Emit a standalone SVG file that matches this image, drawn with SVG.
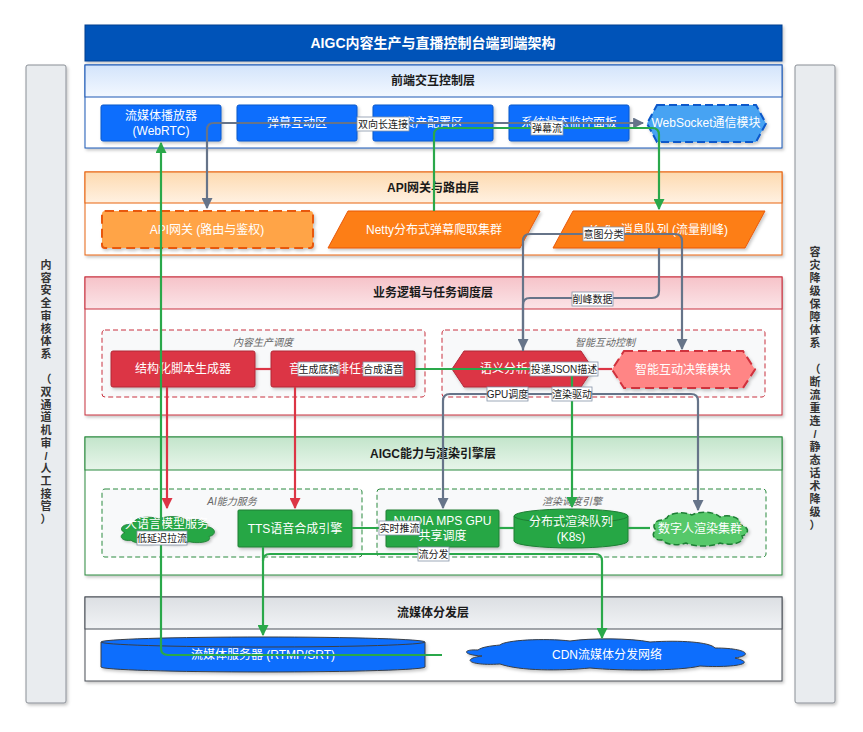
<svg xmlns="http://www.w3.org/2000/svg" width="863" height="732" viewBox="0 0 863 732">
<defs>
<style>
text{font-family:"Liberation Sans","Noto Sans CJK SC",sans-serif}
.title{font-size:14px;font-weight:bold;fill:#fff;text-anchor:middle;dominant-baseline:central}
.lh{font-size:12px;font-weight:bold;fill:#1a1a1a;text-anchor:middle;dominant-baseline:central}
.nt{font-size:12px;fill:#fff;text-anchor:middle;dominant-baseline:central}
.gl{font-size:10px;font-style:italic;fill:#666;text-anchor:middle;dominant-baseline:central}
.el{font-size:10px;fill:#222;text-anchor:middle;dominant-baseline:central}
.lb{fill:#fff;stroke:#8593a8;stroke-width:0.8}
.side{fill:#e9ecef;stroke:#8a8f96;stroke-width:1}
.st{font-size:11px;font-weight:bold;fill:#333;text-anchor:middle}
.cg{fill:none;stroke:#2aa84a;stroke-width:2.2}
.cs{fill:none;stroke:#667489;stroke-width:2.2}
.cr{fill:none;stroke:#dc3545;stroke-width:2.2}
.grp{stroke-dasharray:5 3;stroke-width:1}
.blue{fill:#0d6efd;stroke:#0a58ca;stroke-width:1}
.red{fill:#dc3545;stroke:#b02a37;stroke-width:1}
.green{fill:#28a745;stroke:#1e7e34;stroke-width:1}
.orange{fill:#fd7e14;stroke:#e8590c;stroke-width:1}
</style>
<path id="cloud" d="M12,14 C4,14 2,22 8,25 C1,28 4,37 14,35 C18,40 32,41 40,37 C48,41 66,41 72,37 C82,40 96,37 92,30 C100,28 99,18 90,17 C92,8 78,5 70,9 C64,2 48,2 42,7 C34,2 18,4 17,11 C15,12 13,13 12,14 Z"/>
<linearGradient id="g1" x1="0" y1="0" x2="0" y2="1"><stop offset="0" stop-color="#d3e4fb"/><stop offset="1" stop-color="#f3f8ff"/></linearGradient>
<linearGradient id="g2" x1="0" y1="0" x2="0" y2="1"><stop offset="0" stop-color="#fddab0"/><stop offset="1" stop-color="#fff1e2"/></linearGradient>
<linearGradient id="g3" x1="0" y1="0" x2="0" y2="1"><stop offset="0" stop-color="#f6c3c9"/><stop offset="1" stop-color="#fbe4e7"/></linearGradient>
<linearGradient id="g4" x1="0" y1="0" x2="0" y2="1"><stop offset="0" stop-color="#c3e5cb"/><stop offset="1" stop-color="#e7f5ea"/></linearGradient>
<linearGradient id="g5" x1="0" y1="0" x2="0" y2="1"><stop offset="0" stop-color="#dcdfe3"/><stop offset="1" stop-color="#f1f3f5"/></linearGradient>
<filter id="sh" x="-10%" y="-20%" width="130%" height="160%"><feDropShadow dx="1.5" dy="2" stdDeviation="1.5" flood-color="#000" flood-opacity="0.22"/></filter>
<marker id="ag" viewBox="0 0 10 10" refX="9" refY="5" markerWidth="5" markerHeight="5" orient="auto-start-reverse"><path d="M0,0 L10,5 L0,10 z" fill="#2aa84a"/></marker>
<marker id="as" viewBox="0 0 10 10" refX="9" refY="5" markerWidth="5" markerHeight="5" orient="auto-start-reverse"><path d="M0,0 L10,5 L0,10 z" fill="#667489"/></marker>
<marker id="ar" viewBox="0 0 10 10" refX="9" refY="5" markerWidth="5" markerHeight="5" orient="auto-start-reverse"><path d="M0,0 L10,5 L0,10 z" fill="#dc3545"/></marker>
</defs>
<rect width="863" height="732" fill="#fff"/>

<!-- side panels -->
<g id="side-left">
<rect class="side" x="26" y="65" width="40" height="638" rx="2" filter="url(#sh)"/>
<text class="st" x="46" y="269"><tspan x="46">内</tspan><tspan x="46" dy="12.7">容</tspan><tspan x="46" dy="12.7">安</tspan><tspan x="46" dy="12.7">全</tspan><tspan x="46" dy="12.7">审</tspan><tspan x="46" dy="12.7">核</tspan><tspan x="46" dy="12.7">体</tspan><tspan x="46" dy="12.7">系</tspan><tspan x="46" dy="25.4">（</tspan><tspan x="46" dy="12.7">双</tspan><tspan x="46" dy="12.7">通</tspan><tspan x="46" dy="12.7">道</tspan><tspan x="46" dy="12.7">机</tspan><tspan x="46" dy="12.7">审</tspan><tspan x="46" dy="12.7">/</tspan><tspan x="46" dy="12.7">人</tspan><tspan x="46" dy="12.7">工</tspan><tspan x="46" dy="12.7">接</tspan><tspan x="46" dy="12.7">管</tspan><tspan x="46" dy="12.7">）</tspan></text>
</g>
<g id="side-right">
<rect class="side" x="795" y="65" width="40" height="638" rx="2" filter="url(#sh)"/>
<text class="st" x="815" y="256"><tspan x="815">容</tspan><tspan x="815" dy="13">灾</tspan><tspan x="815" dy="13">降</tspan><tspan x="815" dy="13">级</tspan><tspan x="815" dy="13">保</tspan><tspan x="815" dy="13">障</tspan><tspan x="815" dy="13">体</tspan><tspan x="815" dy="13">系</tspan><tspan x="815" dy="26">（</tspan><tspan x="815" dy="13">断</tspan><tspan x="815" dy="13">流</tspan><tspan x="815" dy="13">重</tspan><tspan x="815" dy="13">连</tspan><tspan x="815" dy="13">/</tspan><tspan x="815" dy="13">静</tspan><tspan x="815" dy="13">态</tspan><tspan x="815" dy="13">话</tspan><tspan x="815" dy="13">术</tspan><tspan x="815" dy="13">降</tspan><tspan x="815" dy="13">级</tspan><tspan x="815" dy="13">）</tspan></text>
</g>

<!-- title -->
<g id="title">
<rect x="85" y="25" width="697" height="36" fill="#0652b8" stroke="#033f8f" stroke-width="1" filter="url(#sh)"/>
<text class="title" x="433" y="43">AIGC内容生产与直播控制台端到端架构</text>
</g>

<!-- layers -->
<g id="layer-frontend">
<rect x="85" y="65" width="697" height="83" fill="#fff" stroke="#1c58b5" stroke-width="1" filter="url(#sh)"/>
<rect x="85" y="65" width="697" height="32" fill="url(#g1)" stroke="#1c58b5" stroke-width="1"/>
<text class="lh" x="433" y="81">前端交互控制层</text>
</g>
<g id="layer-api">
<rect x="85" y="172" width="697" height="83" fill="#fff" stroke="#e8650f" stroke-width="1" filter="url(#sh)"/>
<rect x="85" y="172" width="697" height="31" fill="url(#g2)" stroke="#e8650f" stroke-width="1"/>
<text class="lh" x="433" y="187.5">API网关与路由层</text>
</g>
<g id="layer-biz">
<rect x="85" y="277" width="697" height="138" fill="#fff" stroke="#c8313e" stroke-width="1" filter="url(#sh)"/>
<rect x="85" y="277" width="697" height="32" fill="url(#g3)" stroke="#c8313e" stroke-width="1"/>
<text class="lh" x="433" y="293">业务逻辑与任务调度层</text>
</g>
<g id="layer-aigc">
<rect x="85" y="437" width="697" height="138" fill="#fff" stroke="#2a8a3e" stroke-width="1" filter="url(#sh)"/>
<rect x="85" y="437" width="697" height="33" fill="url(#g4)" stroke="#2a8a3e" stroke-width="1"/>
<text class="lh" x="433" y="453.5">AIGC能力与渲染引擎层</text>
</g>
<g id="layer-stream">
<rect x="85" y="597" width="697" height="84" fill="#fff" stroke="#4a5058" stroke-width="1" filter="url(#sh)"/>
<rect x="85" y="597" width="697" height="32" fill="url(#g5)" stroke="#4a5058" stroke-width="1"/>
<text class="lh" x="433" y="613">流媒体分发层</text>
</g>

<!-- groups -->
<g id="grp-content">
<rect class="grp" x="102" y="330" width="323" height="67" rx="3" fill="#f8f9fa" stroke="#c8313e"/>
<text class="gl" x="263" y="342">内容生产调度</text>
</g>
<g id="grp-interact">
<rect class="grp" x="442" y="330" width="323" height="67" rx="3" fill="#f8f9fa" stroke="#c8313e"/>
<text class="gl" x="605" y="342">智能互动控制</text>
</g>
<g id="grp-ai">
<rect class="grp" x="102" y="489" width="260" height="68" rx="3" fill="#f8f9fa" stroke="#2a8a3e"/>
<text class="gl" x="232" y="501">AI能力服务</text>
</g>
<g id="grp-render">
<rect class="grp" x="377" y="489" width="389" height="68" rx="3" fill="#f8f9fa" stroke="#2a8a3e"/>
<text class="gl" x="572" y="501">渲染调度引擎</text>
</g>

<!-- nodes: frontend -->
<g id="n-player"><rect class="blue" x="101" y="105" width="120" height="36" rx="2" filter="url(#sh)"/><text class="nt" x="161" y="116">流媒体播放器</text><text class="nt" x="161" y="131">(WebRTC)</text></g>
<g id="n-danmu"><rect class="blue" x="237" y="105" width="120" height="36" rx="2" filter="url(#sh)"/><text class="nt" x="297" y="123">弹幕互动区</text></g>
<g id="n-asset"><rect class="blue" x="373" y="105" width="120" height="36" rx="2" filter="url(#sh)"/><text class="nt" x="433" y="123">资产配置区</text></g>
<g id="n-monitor"><rect class="blue" x="509" y="105" width="120" height="36" rx="2" filter="url(#sh)"/><text class="nt" x="569" y="123">系统状态监控面板</text></g>
<g id="n-ws"><polygon points="657,105 756,105 766,123.5 756,142 657,142 647,123.5" fill="#47a3f3" stroke="#0a58ca" stroke-width="2" stroke-dasharray="8 4" filter="url(#sh)"/><text class="nt" x="706" y="123">WebSocket通信模块</text></g>

<!-- nodes: api -->
<g id="n-gateway"><rect x="102" y="211" width="211" height="37" rx="3" fill="#ffa447" stroke="#e8590c" stroke-width="2" stroke-dasharray="9 5" filter="url(#sh)"/><text class="nt" x="207" y="229.5">API网关 (路由与鉴权)</text></g>
<g id="n-netty"><polygon class="orange" points="348,211 540,211 520,248 328,248" filter="url(#sh)"/><text class="nt" x="434" y="229.5">Netty分布式弹幕爬取集群</text></g>
<g id="n-kafka"><polygon class="orange" points="573,211 765,211 745,248 553,248" filter="url(#sh)"/><text class="nt" x="659" y="229.5">Kafka消息队列 (流量削峰)</text></g>

<!-- nodes: biz -->
<g id="n-script"><rect class="red" x="111" y="351" width="144" height="36" rx="2" filter="url(#sh)"/><text class="nt" x="183" y="369">结构化脚本生成器</text></g>
<g id="n-avtask"><rect class="red" x="271" y="351" width="144" height="36" rx="2" filter="url(#sh)"/><text class="nt" x="343" y="369">音视频编排任务调度</text></g>
<g id="n-semantic"><polygon class="red" points="464,351 581,351 593,369 581,387 464,387 452,369" filter="url(#sh)"/><text class="nt" x="522" y="369">语义分析过滤器</text></g>
<g id="n-decision"><polygon points="624,351 743,351 755,369.5 743,388 624,388 612,369.5" fill="#ff8585" stroke="#d0303c" stroke-width="2" stroke-dasharray="9 5" filter="url(#sh)"/><text class="nt" x="683" y="369.5">智能互动决策模块</text></g>

<!-- nodes: aigc -->
<g id="n-llm"><use href="#cloud" transform="translate(117,514) scale(1,0.75)" fill="#28a745" stroke="#1e7e34" stroke-width="1" vector-effect="non-scaling-stroke" filter="url(#sh)"/><text class="nt" x="167" y="524">大语言模型服务</text></g>
<g id="n-tts"><rect class="green" x="238" y="510" width="114" height="37" rx="1" filter="url(#sh)"/><text class="nt" x="295" y="528.5">TTS语音合成引擎</text></g>
<g id="n-mps"><rect class="green" x="386" y="510" width="113" height="37" rx="1" filter="url(#sh)"/><text class="nt" x="442.5" y="521">NVIDIA MPS GPU</text><text class="nt" x="442.5" y="536">共享调度</text></g>
<g id="n-queue"><path d="M514,516 A57,7 0 0 1 628,516 V541 A57,7 0 0 1 514,541 Z" class="green" filter="url(#sh)"/><path d="M514,516 A57,7 0 0 0 628,516" fill="none" stroke="#1e7e34" stroke-width="1"/><text class="nt" x="571" y="522">分布式渲染队列</text><text class="nt" x="571" y="537">(K8s)</text></g>
<g id="n-avatar"><path d="M662,520 C654,520 652,527 656,530 C651,533 653,541 662,540 C666,545 678,546 686,543 C694,547 712,547 720,543 C730,546 746,543 742,536 C750,534 749,526 740,525 C742,517 728,514 720,517 C714,511 698,511 692,515 C684,511 668,513 667,518 Z" fill="#56c86a" stroke="#1e7e34" stroke-width="1.5" stroke-dasharray="6 3" filter="url(#sh)"/><text class="nt" x="700" y="529">数字人渲染集群</text></g>

<!-- nodes: stream -->
<g id="n-server"><path d="M101,642 A162,5 0 0 1 425,642 V667 A162,5 0 0 1 101,667 Z" fill="#0d6efd" stroke="#3a3f46" stroke-width="1" filter="url(#sh)"/><path d="M101,642 A162,5 0 0 0 425,642" fill="none" stroke="#3a3f46" stroke-width="1"/><text class="nt" x="263" y="655">流媒体服务器 (RTMP/SRT)</text></g>
<g id="n-cdn"><path d="M478,650 C462,649 462,655 482,656 C460,659 470,666 500,664 C520,671 560,671 590,668 C620,671 680,671 700,666 C730,668 760,664 735,658 C755,655 745,648 715,648 C710,642 680,640 650,642 C630,638 590,638 570,641 C545,638 505,640 500,645 C490,646 482,647 478,650 Z" fill="#0d6efd" stroke="#3a3f46" stroke-width="1" filter="url(#sh)"/><text class="nt" x="607" y="655">CDN流媒体分发网络</text></g>

<!-- connectors -->
<g id="connectors">
<path class="cs" d="M207,208 V130 Q207,123 214,123 H643" marker-start="url(#as)" marker-end="url(#as)"/>
<path class="cg" d="M434,211 V135 Q434,128 441,128 H652 Q659,128 659,135 V209" marker-end="url(#ag)"/>
<path class="cs" d="M523,351 V241 Q523,234 530,234 H675 Q682,234 682,241 V349" marker-end="url(#as)"/>
<path class="cs" d="M659,248 V291 Q659,298 652,298 H530 Q523,298 523,305 V349" marker-end="url(#as)"/>
<path class="cs" d="M443,508 V401 Q443,394 450,394 H691 Q698,394 698,401 V510" marker-start="url(#as)" marker-end="url(#as)"/>
<path class="cr" d="M255,369 H271"/>
<path class="cr" d="M593,369 H612"/>
<path class="cr" d="M167,387 V508" marker-end="url(#ar)"/>
<path class="cr" d="M295,387 V508" marker-end="url(#ar)"/>
<path class="cg" d="M415,369 H565 Q572,369 572,376 V507" marker-end="url(#ag)"/>
<path class="cg" d="M352,528 H386"/>
<path class="cg" d="M499,528 H514"/>
<path class="cg" d="M628,528 H650"/>
<path class="cg" d="M263,547 V635" marker-end="url(#ag)"/>
<path class="cg" d="M263,561 Q263,554 270,554 H595 Q602,554 602,561 V638" marker-end="url(#ag)"/>
<path class="cg" d="M442,655 H168 Q161,655 161,648 V143" marker-end="url(#ag)"/>

<rect class="lb" x="357" y="117" width="52" height="14"/><text class="el" x="383" y="124">双向长连接</text>
<rect class="lb" x="531" y="121" width="32" height="14"/><text class="el" x="547" y="128">弹幕流</text>
<rect class="lb" x="583" y="227" width="41" height="14"/><text class="el" x="603.5" y="234">意图分类</text>
<rect class="lb" x="572" y="292" width="41" height="14"/><text class="el" x="592.5" y="299">削峰数据</text>
<rect class="lb" x="298" y="362" width="41" height="14"/><text class="el" x="318.5" y="369">生成底稿</text>
<rect class="lb" x="363" y="362" width="40" height="14"/><text class="el" x="383" y="369">合成语音</text>
<rect class="lb" x="530" y="362" width="68" height="14"/><text class="el" x="564" y="369">投递JSON描述</text>
<rect class="lb" x="487" y="387" width="41" height="14"/><text class="el" x="507.5" y="394">GPU调度</text>
<rect class="lb" x="552" y="387" width="40" height="14"/><text class="el" x="572" y="394">渲染驱动</text>
<rect class="lb" x="137" y="531" width="50" height="14"/><text class="el" x="162" y="538">低延迟拉流</text>
<rect class="lb" x="379" y="521" width="41" height="14"/><text class="el" x="399.5" y="528">实时推流</text>
<rect class="lb" x="418" y="547" width="31" height="14"/><text class="el" x="433.5" y="554">流分发</text>
</g>
</svg>
